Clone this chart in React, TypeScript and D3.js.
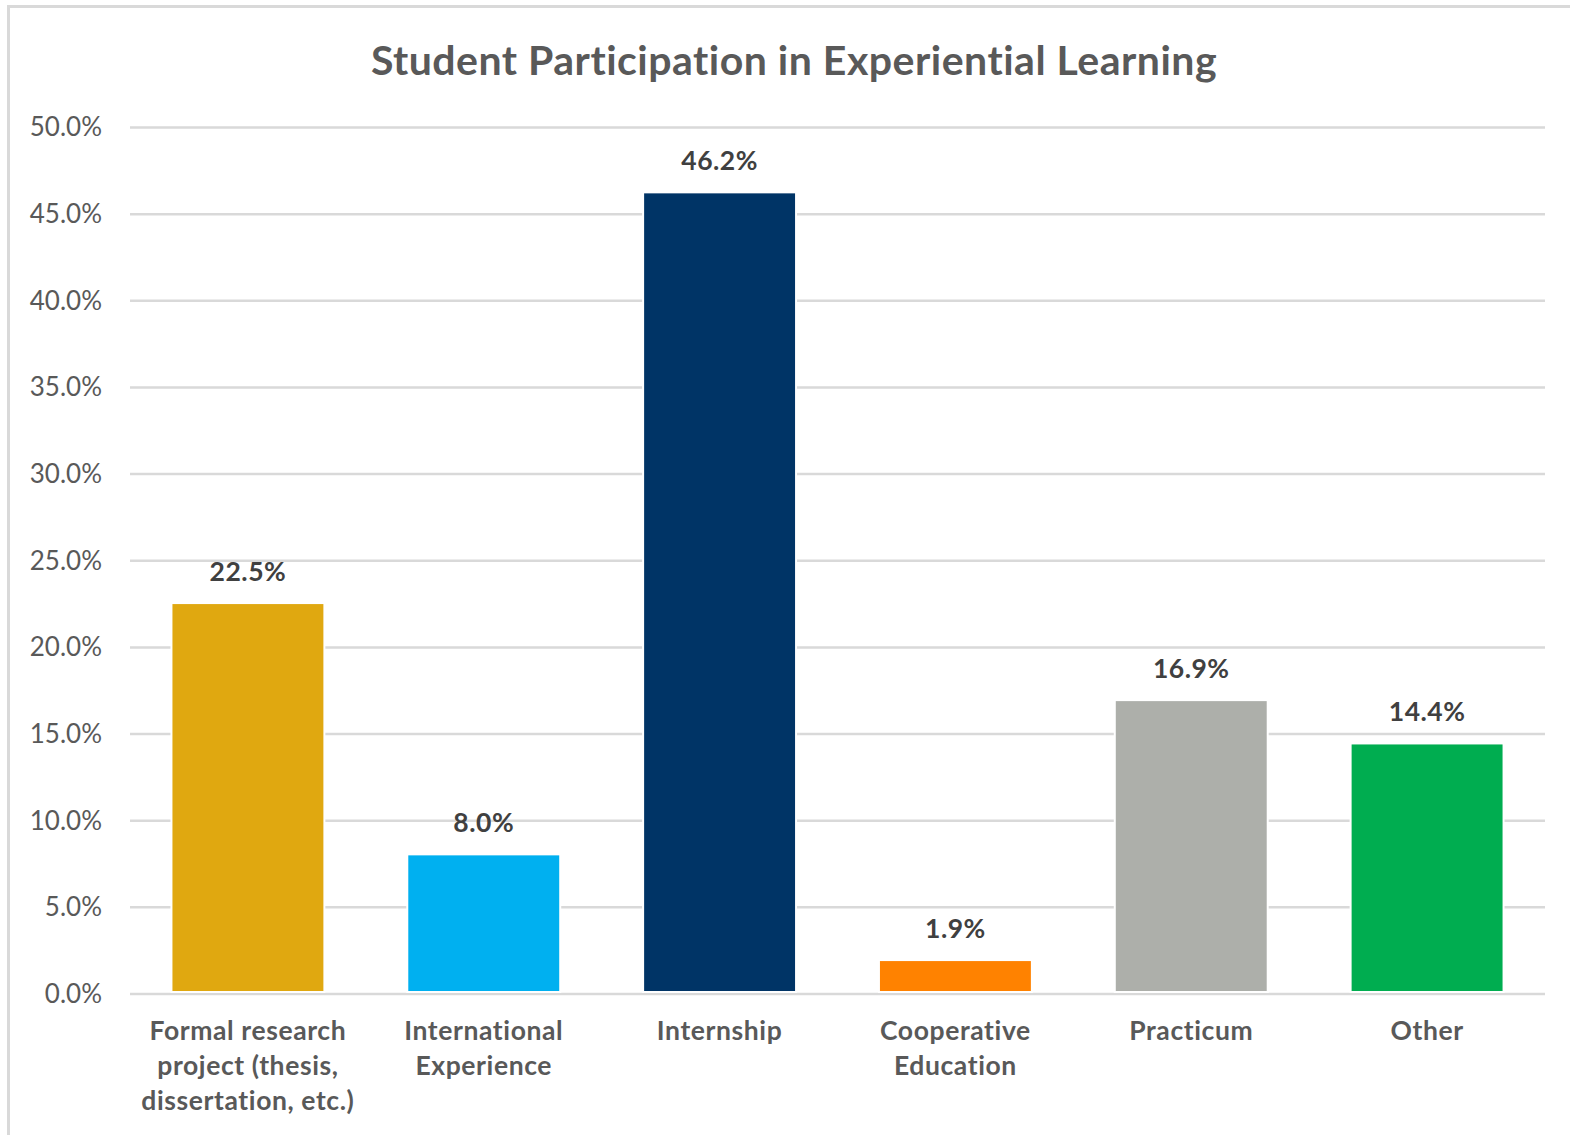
import { useEffect, useRef } from "react";
import * as d3 from "d3";

// categories / values / colours
const categories = [
  "Formal research project (thesis, dissertation, etc.)",
  "International Experience",
  "Internship",
  "Cooperative Education",
  "Practicum",
  "Other",
];
const categoryLines = [
  ["Formal research", "project (thesis,", "dissertation, etc.)"],
  ["International", "Experience"],
  ["Internship"],
  ["Cooperative", "Education"],
  ["Practicum"],
  ["Other"],
];
const values = [0.225, 0.08, 0.462, 0.019, 0.169, 0.144];
const barColors = ["#E0A810", "#00B0F0", "#003466", "#FF8200", "#ADAFAA", "#00AD50"];
const yTicks = [0, 0.05, 0.1, 0.15, 0.2, 0.25, 0.3, 0.35, 0.4, 0.45, 0.5];

const W = 1570;
const H = 1135;
const FONT = "Lato, 'Open Sans', sans-serif";

export default function App() {
  const ref = useRef<SVGSVGElement | null>(null);

  useEffect(() => {
    document.body.style.margin = "0";
    if (!ref.current) return;
    const svg = d3.select(ref.current);
    svg.selectAll("*").remove();

    const x = d3
      .scaleBand<number>()
      .domain(d3.range(categories.length))
      .range([130, 1545])
      .paddingInner(0.36)
      .paddingOuter(0.18);
    const y = d3.scaleLinear().domain([0, 0.5]).range([994, 127.5]);
    const pct = d3.format(".1%");

    // outer chart border (only left/top visible in the crop)
    svg
      .append("rect")
      .attr("x", 8.5)
      .attr("y", 6.5)
      .attr("width", W + 50)
      .attr("height", H + 50)
      .attr("fill", "#fff")
      .attr("stroke", "#d9d9d9")
      .attr("stroke-width", 3);

    // title
    svg
      .append("text")
      .attr("x", 794)
      .attr("y", 75)
      .attr("text-anchor", "middle")
      .attr("font-family", FONT)
      .attr("font-weight", 700)
      .attr("font-size", 41)
      .attr("letter-spacing", 0.5)
      .attr("fill", "#595959")
      .text("Student Participation in Experiential Learning");

    // gridlines
    svg
      .append("g")
      .selectAll("line")
      .data(yTicks)
      .join("line")
      .attr("x1", 130)
      .attr("x2", 1545)
      .attr("y1", (d) => y(d))
      .attr("y2", (d) => y(d))
      .attr("stroke", "#d9d9d9")
      .attr("stroke-width", 2.5);

    // y axis labels
    const yAxis = d3
      .axisLeft(y)
      .tickValues(yTicks)
      .tickFormat((d) => pct(d as number))
      .tickSize(0)
      .tickPadding(0);
    const gy = svg.append("g").attr("transform", "translate(102,0)").call(yAxis);
    gy.select(".domain").remove();
    gy.selectAll("text")
      .attr("font-family", FONT)
      .attr("font-size", 26)
      .attr("fill", "#595959");

    // bars, with white edge that breaks the gridlines
    svg
      .append("g")
      .selectAll("rect")
      .data(values)
      .join("rect")
      .attr("x", (_, i) => x(i)!)
      .attr("width", x.bandwidth())
      .attr("y", (d) => y(d))
      .attr("height", (d) => y(0) - y(d) - 3)
      .attr("fill", (_, i) => barColors[i])
      .attr("stroke", "#fff")
      .attr("stroke-width", 4)
      .attr("paint-order", "stroke");

    // value labels
    svg
      .append("g")
      .selectAll("text")
      .data(values)
      .join("text")
      .attr("x", (_, i) => x(i)! + x.bandwidth() / 2)
      .attr("y", (d) => y(d) - 23)
      .attr("text-anchor", "middle")
      .attr("font-family", FONT)
      .attr("font-weight", 700)
      .attr("font-size", 26.5)
      .attr("letter-spacing", 0.5)
      .attr("fill", "#404040")
      .text((d) => pct(d));

    // category labels
    const gx = svg
      .append("g")
      .selectAll("text")
      .data(categoryLines)
      .join("text")
      .attr("text-anchor", "middle")
      .attr("font-family", FONT)
      .attr("font-weight", 700)
      .attr("font-size", 26.5)
      .attr("letter-spacing", 0.6)
      .attr("fill", "#595959")
      .attr("aria-label", (_, i) => categories[i]);
    gx.selectAll("tspan")
      .data((d) => d)
      .join("tspan")
      .attr("x", function () {
        const i = categoryLines.indexOf(
          d3.select((this as SVGTSpanElement).parentNode as SVGTextElement).datum() as string[]
        );
        return x(i)! + x.bandwidth() / 2;
      })
      .attr("y", (_, j) => 1040 + j * 35)
      .text((d) => d);
  }, []);

  return (
    <svg
      ref={ref}
      width={W}
      height={H}
      style={{ position: "absolute", left: 0, top: 0, background: "#fff" }}
    />
  );
}
